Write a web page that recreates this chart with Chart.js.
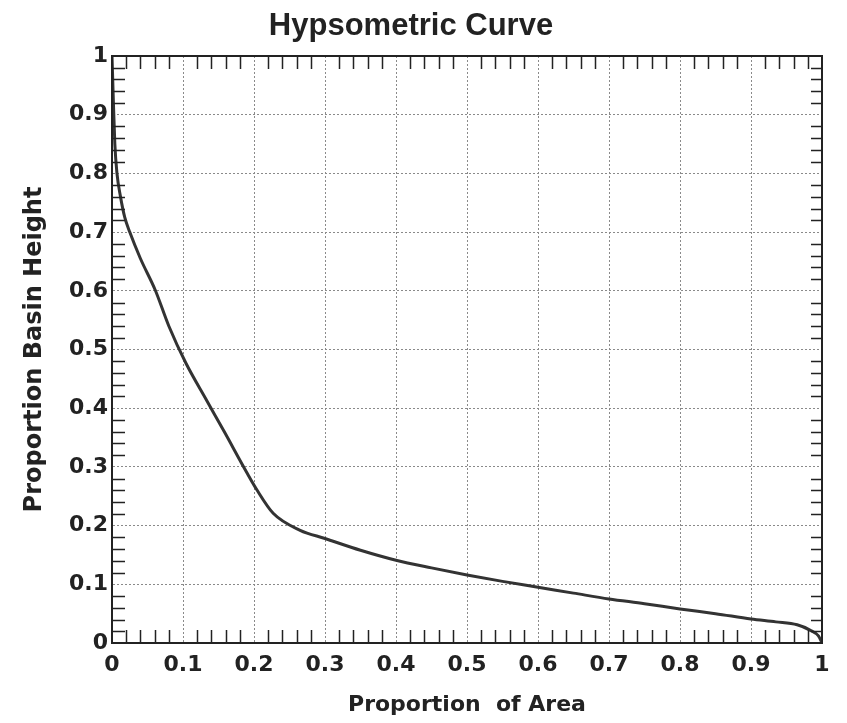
<!DOCTYPE html>
<html>
<head>
<meta charset="utf-8">
<script src="https://cdn.jsdelivr.net/npm/chart.js@4.4.1/dist/chart.umd.min.js"></script>
<style>
  body { margin: 0; background: #fff; }
  #wrap { width: 847px; height: 723px; }
</style>
</head>
<body>
<div id="wrap"><canvas id="hypsoChart"></canvas></div>
<script>
// values
const areaProportion = [0, 0.002, 0.004, 0.007, 0.012, 0.018, 0.025, 0.04, 0.061, 0.08, 0.104, 0.133, 0.159, 0.19, 0.204, 0.227, 0.265, 0.3, 0.35, 0.4, 0.45, 0.5, 0.55, 0.6, 0.65, 0.7, 0.75, 0.8, 0.85, 0.9, 0.935, 0.965, 0.983, 0.995, 1];
const heightProportion = [1, 0.92, 0.85, 0.8, 0.76, 0.725, 0.70, 0.655, 0.601, 0.54, 0.477, 0.414, 0.358, 0.29, 0.261, 0.221, 0.192, 0.178, 0.158, 0.141, 0.128, 0.116, 0.105, 0.095, 0.085, 0.075, 0.067, 0.058, 0.05, 0.041, 0.036, 0.031, 0.022, 0.012, 0];
const tickValues = [0, 0.1, 0.2, 0.3, 0.4, 0.5, 0.6, 0.7, 0.8, 0.9, 1];

const points = areaProportion.map((x, i) => ({ x: x, y: heightProportion[i] }));

const fmt = (v) => {
  const r = Math.round(v * 10) / 10;
  return (r === 0 || r === 1) ? String(r) : r.toFixed(1);
};

// frame + small inward ticks every 0.02 on all four sides
const frameTicks = {
  id: 'frameTicks',
  afterDatasetsDraw(chart) {
    const { ctx, chartArea: a, scales: { x, y } } = chart;
    ctx.save();
    ctx.strokeStyle = '#222';
    ctx.lineWidth = 1.5;
    ctx.beginPath();
    for (let i = 1; i < 50; i++) {
      if (i % 5 === 0) continue;
      const v = i / 50;
      const px = Math.round(x.getPixelForValue(v)) + 0.5;
      const py = Math.round(y.getPixelForValue(v)) + 0.5;
      ctx.moveTo(px, a.bottom); ctx.lineTo(px, a.bottom - 13);
      ctx.moveTo(px, a.top); ctx.lineTo(px, a.top + 13);
      ctx.moveTo(a.left, py); ctx.lineTo(a.left + 13, py);
      ctx.moveTo(a.right, py); ctx.lineTo(a.right - 11, py);
    }
    ctx.stroke();
    ctx.lineWidth = 2;
    ctx.strokeRect(a.left, a.top, a.right - a.left, a.bottom - a.top);
    ctx.restore();
  }
};

const ctx = document.getElementById('hypsoChart').getContext('2d');
new Chart(ctx, {
  type: 'scatter',
  data: {
    datasets: [{
      label: 'Hypsometric Curve',
      data: points,
      showLine: true,
      borderColor: '#333',
      borderWidth: 3,
      pointRadius: 0,
      cubicInterpolationMode: 'monotone',
    }],
  },
  options: {
    responsive: true,
    maintainAspectRatio: false,
    animation: false,
    layout: { padding: { left: 0, right: 25, top: 0, bottom: 0 } },
    plugins: {
      legend: { display: false },
      tooltip: { enabled: false },
      title: {
        display: true,
        text: 'Hypsometric Curve',
        color: '#222',
        font: { family: 'Liberation Sans', size: 31, weight: 'bold' },
        padding: { top: 8, bottom: 10.8 },
      },
    },
    scales: {
      x: {
        type: 'linear',
        min: 0,
        max: 1,
        afterFit: (s) => { s.height = 80; },
        afterBuildTicks: (s) => { s.ticks = tickValues.map((v) => ({ value: v })); },
        grid: {
          color: '#8a8a8a',
          lineWidth: 1,
          drawTicks: false,
        },
        border: { display: true, color: '#222', width: 2, dash: [2, 2] },
        ticks: {
          color: '#222',
          padding: 9,
          maxRotation: 0,
          font: { family: 'DejaVu Sans', size: 22, weight: 'bold' },
          callback: (v) => fmt(v),
        },
        title: {
          display: true,
          text: 'Proportion  of Area',
          color: '#222',
          font: { family: 'DejaVu Sans', size: 22, weight: 'bold' },
          padding: { top: 0, bottom: 5 },
        },
      },
      y: {
        type: 'linear',
        min: 0,
        max: 1,
        afterFit: (s) => { s.width = 112; },
        afterBuildTicks: (s) => { s.ticks = tickValues.map((v) => ({ value: v })); },
        grid: {
          color: '#8a8a8a',
          lineWidth: 1,
          drawTicks: false,
        },
        border: { display: true, color: '#222', width: 2, dash: [2, 2] },
        ticks: {
          color: '#222',
          padding: 4,
          font: { family: 'DejaVu Sans', size: 22, weight: 'bold' },
          callback: (v) => fmt(v),
        },
        title: {
          display: true,
          text: 'Proportion Basin Height',
          color: '#222',
          font: { family: 'DejaVu Sans', size: 24, weight: 'bold' },
          padding: { top: 20, bottom: 0 },
        },
      },
    },
  },
  plugins: [frameTicks],
});
</script>
</body>
</html>
